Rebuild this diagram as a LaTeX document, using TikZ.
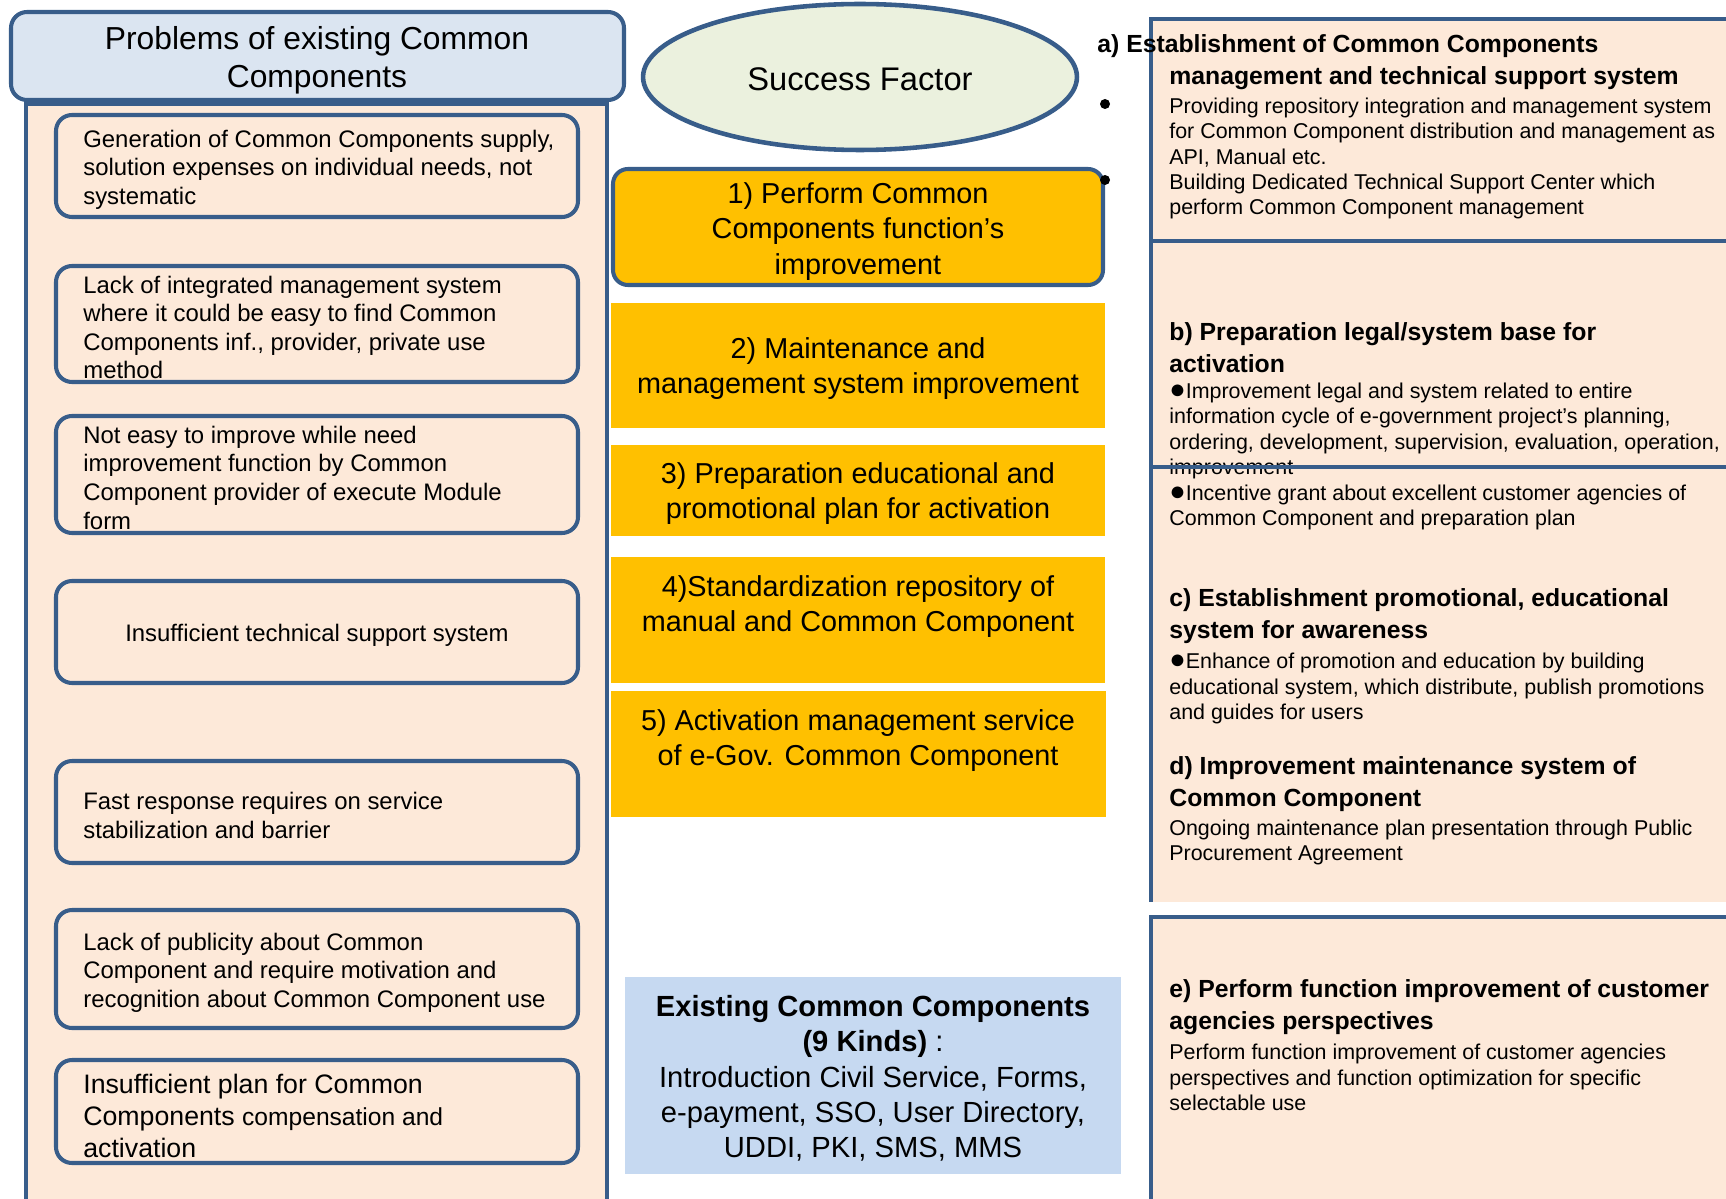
\documentclass[tikz,border=0pt]{standalone}
\usepackage{fontspec}
\setmainfont{Liberation Sans}
\usepackage{xcolor}
\usepackage{tikz}

\definecolor{rimblue}{HTML}{385D8A}
\definecolor{peach}{HTML}{FDE9D9}
\definecolor{headblue}{HTML}{DBE5F1}
\definecolor{palegreen}{HTML}{EBF1DE}
\definecolor{gold}{HTML}{FFC000}
\definecolor{listblue}{HTML}{C6D9F1}

\newcommand{\bigdot}{{\fontsize{15.5}{14.45}\selectfont ●}}

\begin{document}
\begin{tikzpicture}[x=0.02cm, y=-0.02cm,
  bluerim/.style={draw=rimblue, line width=2.3pt},
  probbox/.style={bluerim, fill=peach, rounded corners=0.32cm},
  probtext/.style={anchor=west, inner sep=0pt, yshift=-0.07cm, align=left, font=\fontsize{13.6}{16.3}\selectfont},
  factortext/.style={inner sep=0pt, yshift=-0.07cm, align=center, font=\fontsize{16.4}{20}\selectfont},
  headtext/.style={anchor=west, inner sep=0pt, yshift=-0.05cm, align=left, font=\bfseries\fontsize{14.1}{18.3}\selectfont},
  bodytext/.style={anchor=west, inner sep=0pt, yshift=-0.05cm, align=left, font=\fontsize{12.2}{14.45}\selectfont}]

\useasboundingbox (0,0) rectangle (1726,1199);
\clip (0,0) rectangle (1726,1199);


% Problems column
\filldraw[fill=peach, draw=rimblue, line width=2pt] (26,104) rectangle (607,1230);

\filldraw[bluerim, fill=headblue, rounded corners=0.32cm] (11,12) rectangle (624,100);
\path 
(317,57) node[inner sep=0pt, yshift=-0.07cm, align=center, font=\fontsize{18.1}{21.8}\selectfont] (probhead) {Problems of existing Common\\Components};

\filldraw[probbox] (56,115) rectangle (578,217);
\path 
(83,166) node[probtext] (prob1) {Generation of Common Components supply,\\solution expenses on individual needs, not\\systematic};

\filldraw[probbox] (56,266) rectangle (578,382);
\path 
(83,324) node[probtext] (prob2) {Lack of integrated management system\\where  it could be easy to find Common\\Components inf., provider, private use\\method};

\filldraw[probbox] (56,416) rectangle (578,533);
\path 
(83,474) node[probtext] (prob3) {Not easy to improve while need\\improvement function by Common\\Component provider of execute Module\\form};

\filldraw[probbox] (56,581) rectangle (578,683);
\path 
(317,632) node[probtext, anchor=center] (prob4) {Insufficient technical support system};

\filldraw[probbox] (56,761) rectangle (578,863);
\path 
(83,812) node[probtext] (prob5) {Fast response requires on service\\stabilization and barrier};

\filldraw[probbox] (56,910) rectangle (578,1028);
\path 
(83,969) node[probtext] (prob6) {Lack of publicity about Common\\Component and require motivation and\\recognition about Common Component use};

\filldraw[probbox] (56,1060) rectangle (578,1163);
\path 
(83,1112) node[probtext, font=\fontsize{15.2}{18.2}\selectfont] (prob7) {Insufficient plan for Common\\Components {\fontsize{14}{18.2}\selectfont compensation and}\\activation};



% Success factor column
\filldraw[fill=palegreen, draw=rimblue, line width=2.6pt] (860,77) ellipse [x radius=4.34cm, y radius=1.46cm];
\path 
(860,77) node[inner sep=0pt, yshift=-0.04cm, font=\fontsize{18.6}{22}\selectfont] (factor) {Success Factor};

\filldraw[bluerim, fill=gold, rounded corners=0.3cm] (613,169) rectangle (1103,285);
\path 
(858,228) node[factortext] (sf1) {1) Perform  Common\\Components function’s\\improvement};

\fill[gold] (611,303) rectangle (1105,428);
\path 
(858,365) node[factortext] (sf2) {2) Maintenance and\\management system improvement};

\fill[gold] (611,445) rectangle (1105,536);
\path 
(858,490) node[factortext] (sf3) {3) Preparation educational and\\promotional plan for activation};

\fill[gold] (611,557) rectangle (1105,683);
\path 
(858,603) node[factortext] (sf4) {4)Standardization repository of\\manual and Common Component};

\fill[gold] (611,691) rectangle (1106,817);
\path 
(858,737) node[factortext] (sf5) {5) Activation management service\\of e-Gov. Common Component};

% Existing components
\fill[listblue] (625,977) rectangle (1121,1174);
\path 
(873,1075) node[inner sep=0pt, yshift=-0.07cm, align=center, font=\fontsize{16.6}{20.1}\selectfont] (existing) {\textbf{Existing Common Components}\\\textbf{(9 Kinds)} :\\Introduction Civil Service, Forms,\\e-payment, SSO, User Directory,\\UDDI, PKI, SMS, MMS};



% Measures column
\filldraw[bluerim, fill=peach] (1151,19) rectangle (1740,241);
\filldraw[bluerim, fill=peach] (1151,241) rectangle (1740,467);
\fill[peach] (1151,467) rectangle (1740,902);
\draw[bluerim] (1151,467) -- (1151,902);
\filldraw[bluerim, fill=peach] (1151,917) rectangle (1740,1230);

% a)
\path 
(1097,44) node[headtext] (sysahead) {a) Establishment of Common Components};
\path 
(1169,76) node[headtext] (sysahead2) {management and technical support system};
\path 
(1169,156) node[bodytext] (sysabody) {Providing repository integration and management system\\for Common Component distribution and management as\\API, Manual etc.\\Building Dedicated Technical Support Center  which\\perform Common Component management};

\fill (1105,104) circle [radius=0.1cm];
\fill (1105,180) circle [radius=0.1cm];

% b)
\path 
(1169,345) node[headtext] (legalhead) {b) Preparation legal/system base for\\activation};
\path 
(1169,454) node[bodytext] (legalbody) {\bigdot Improvement legal and system related to entire\\information cycle of e-government project’s planning,\\ordering, development, supervision, evaluation, operation,\\improvement\\\bigdot Incentive grant about excellent customer agencies of\\Common Component and preparation plan};

\draw[bluerim] (1151,467) -- (1740,467);

% c)
\path 
(1169,614) node[headtext] (eduhead) {c) Establishment promotional, educational\\system for awareness};
\path 
(1169,686) node[bodytext] (edubody) {\bigdot Enhance of promotion and education by building\\educational system, which distribute, publish promotions\\and guides for users};

% d)
\path 
(1169,782) node[headtext] (mainthead) {d) Improvement maintenance system of\\Common Component};
\path 
(1169,840) node[bodytext] (maintbody) {Ongoing maintenance plan presentation through Public\\Procurement Agreement};

% e)
\path 
(1169,1005) node[headtext] (custhead) {e) Perform function improvement of customer\\agencies perspectives};
\path 
(1169,1075) node[bodytext] (custbody) {Perform function improvement of customer agencies\\perspectives and function optimization for specific\\selectable use};


\end{tikzpicture}
\end{document}
